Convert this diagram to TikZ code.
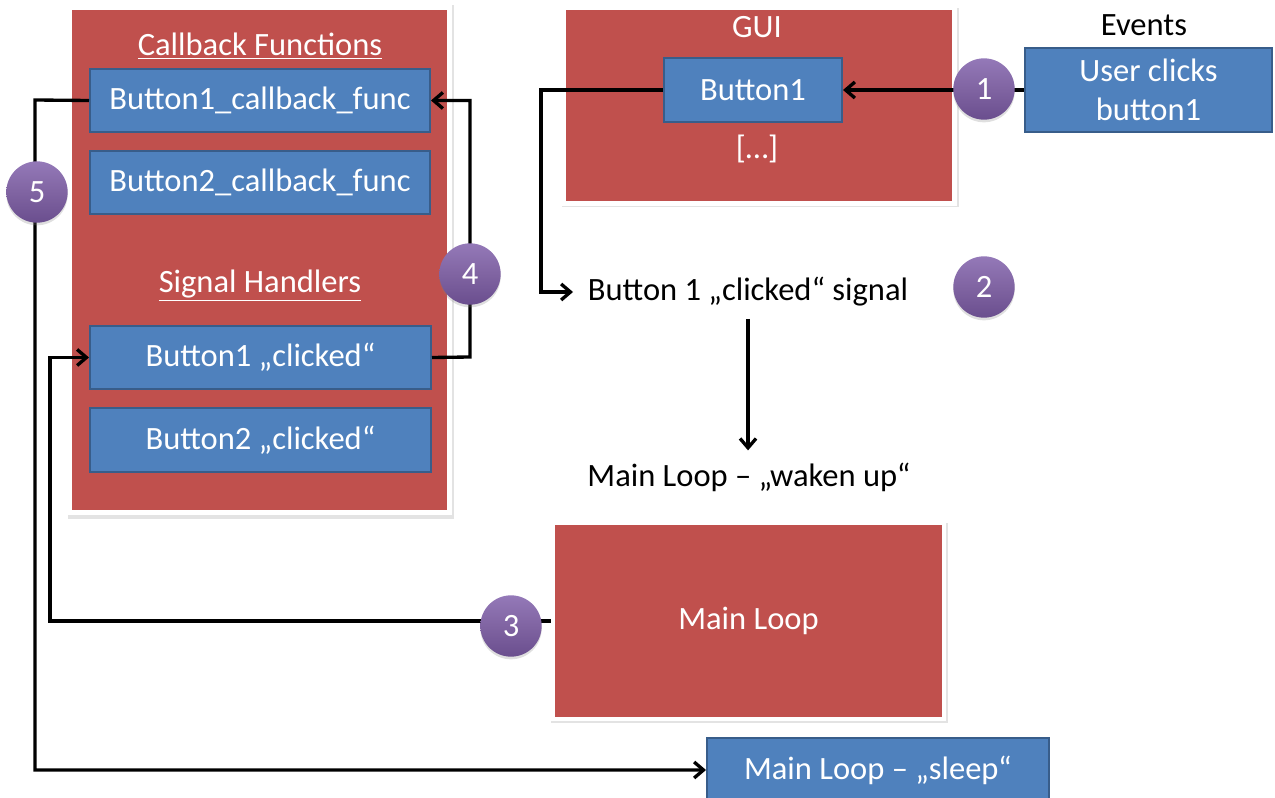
\documentclass[tikz,border=0pt]{standalone}
\usepackage{fontspec}
\setmainfont{Carlito}
\usetikzlibrary{arrows.meta,shadows,calc}

\definecolor{frameRed}{HTML}{C0504D}
\definecolor{boxBlue}{HTML}{4F81BD}
\definecolor{boxEdge}{HTML}{385D8A}
\definecolor{dotTop}{HTML}{9479B8}
\definecolor{dotMid}{HTML}{8064A2}
\definecolor{dotBot}{HTML}{6A4E8E}

\tikzset{
  sz/.style 2 args={minimum width=#1*0.75pt, minimum height=#2*0.75pt},
  panel/.style={rectangle, fill=frameRed, draw=white, line width=3.5pt, inner sep=0pt,
    text=white,
    drop shadow={opacity=0.22, shadow xshift=0.8pt, shadow yshift=-1.5pt, shadow scale=1.016}},
  blk/.style={rectangle, fill=boxBlue, draw=boxEdge, line width=1.5pt, inner sep=0pt,
    text=white},
  stepdot/.style={circle, minimum size=46pt, inner sep=0pt, text=white,
    top color=dotTop, bottom color=dotBot, middle color=dotMid, draw=none,
    drop shadow={opacity=0.25, shadow xshift=0pt, shadow yshift=-2pt}},
  conn/.style={draw=black, line width=2.5pt,
    -{Straight Barb[length=7pt,width=12pt]}},
  head/.style={text=white, inner sep=0pt, anchor=base},
  plain/.style={text=black, inner xsep=0pt, inner ysep=9pt}
}

\begin{document}
\begin{tikzpicture}[x=0.75pt, y=-0.75pt, font=\fontsize{24.4}{29}\selectfont]
\useasboundingbox (0,0) rectangle (1275,798);
\clip (0,0) rectangle (1275,798);

% red panels
\node[panel, sz={380}{505}] (cbpanel) at (259.5,260) {};
\node[panel, sz={390.5}{196}] (guipanel) at (759.25,105.5) {};
\node[panel, sz={391}{196}] (mainloop) at (748.5,621) {Main Loop};

% panel headings
\node[head] (cbhead) at (260,56) {\underline{Callback Functions}};
\node[head] (shhead) at (260,293) {\underline{Signal Handlers}};
\node[head] (guihead) at (757,38) {GUI};
\node[head] (more) at (757,159) {[…]};
\node[text=black, inner sep=0pt, anchor=base] (events) at (1144,36) {Events};

% blue boxes
\node[blk, sz={340}{63}] (cb1) at (260,100.5) {Button1\_callback\_func};
\node[blk, sz={340}{63}] (cb2) at (260,182.5) {Button2\_callback\_func};
\node[blk, sz={341}{63}] (bc1) at (260.5,357.5) {Button1 „clicked“};
\node[blk, sz={341}{64}] (bc2) at (260.5,440) {Button2 „clicked“};
\node[blk, sz={178}{64}] (gbtn) at (753,90) {Button1};
\node[blk, sz={247}{84}, align=center] (user) at (1148.5,90) {User clicks\\button1};
\node[blk, sz={342}{64}] (sleep) at (878,770) {Main Loop – „sleep“};

% free text
\node[plain, anchor=west, inner xsep=11pt] (sig) at (573,292) {Button 1 „clicked“ signal};
\node[plain] (wake) at (749,477) {Main Loop – „waken up“};

% connectors
\coordinate (j2) at (541,90);
\coordinate (j3) at (50,621);
\coordinate (j4) at (470,357);
\coordinate (j5) at (35,100);
\draw[conn] (user.west) -- (gbtn.east);
\draw[conn] (gbtn.west) -- (j2) |- (sig.west);
\draw[conn] (sig.south) -- (sig.south |- wake.north);
\draw[conn] (mainloop.west) -- (j3) |- (bc1.west);
\draw[conn] (bc1.east) -- (j4) |- (cb1.east);
\draw[conn] (cb1.west) -- (j5) |- (sleep.west);

% numbered steps
\node[stepdot] (s1) at (984,89) {1};
\node[stepdot] (s2) at (984,287) {2};
\node[stepdot] (s3) at (511,626) {3};
\node[stepdot] (s4) at (470,274) {4};
\node[stepdot] (s5) at (37,192) {5};
\end{tikzpicture}
\end{document}
